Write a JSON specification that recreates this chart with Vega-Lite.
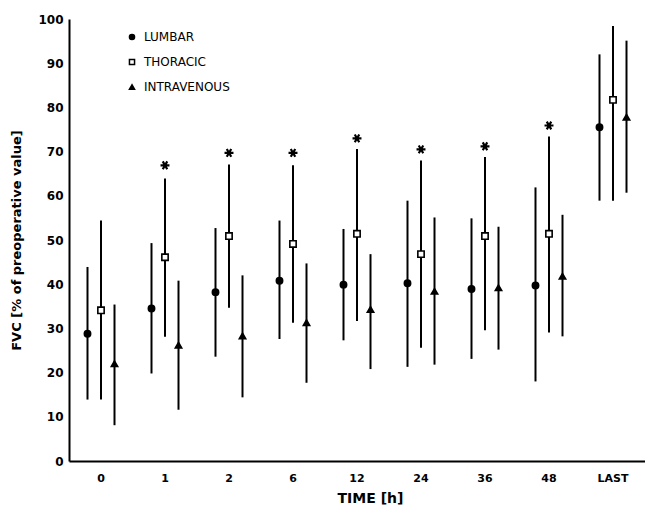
{
  "$schema": "https://vega.github.io/schema/vega-lite/v6.json",
  "width": 576,
  "height": 442,
  "autosize": "none",
  "padding": {"left": 69, "top": 19, "right": 0, "bottom": 47},
  "background": "white",
  "config": {"view": {"stroke": null}, "font": "Liberation Sans"},
  "datasets": {
    "pts": [
      {"t": "0", "g": "LUMBAR", "v": 28.8, "lo": 13.9, "hi": 43.9},
      {"t": "0", "g": "THORACIC", "v": 34.1, "lo": 13.9, "hi": 54.4},
      {"t": "0", "g": "INTRAVENOUS", "v": 22.0, "lo": 8.1, "hi": 35.4},
      {"t": "1", "g": "LUMBAR", "v": 34.5, "lo": 19.8, "hi": 49.3},
      {"t": "1", "g": "THORACIC", "v": 46.1, "lo": 28.1, "hi": 63.9},
      {"t": "1", "g": "INTRAVENOUS", "v": 26.2, "lo": 11.6, "hi": 40.8},
      {"t": "2", "g": "LUMBAR", "v": 38.2, "lo": 23.6, "hi": 52.7},
      {"t": "2", "g": "THORACIC", "v": 50.9, "lo": 34.7, "hi": 67.1},
      {"t": "2", "g": "INTRAVENOUS", "v": 28.3, "lo": 14.4, "hi": 42.0},
      {"t": "6", "g": "LUMBAR", "v": 40.8, "lo": 27.6, "hi": 54.4},
      {"t": "6", "g": "THORACIC", "v": 49.1, "lo": 31.3, "hi": 66.9},
      {"t": "6", "g": "INTRAVENOUS", "v": 31.3, "lo": 17.7, "hi": 44.7},
      {"t": "12", "g": "LUMBAR", "v": 39.9, "lo": 27.3, "hi": 52.5},
      {"t": "12", "g": "THORACIC", "v": 51.4, "lo": 31.7, "hi": 70.6},
      {"t": "12", "g": "INTRAVENOUS", "v": 34.3, "lo": 20.8, "hi": 46.8},
      {"t": "24", "g": "LUMBAR", "v": 40.2, "lo": 21.3, "hi": 58.9},
      {"t": "24", "g": "THORACIC", "v": 46.8, "lo": 25.6, "hi": 68.0},
      {"t": "24", "g": "INTRAVENOUS", "v": 38.4, "lo": 21.8, "hi": 55.1},
      {"t": "36", "g": "LUMBAR", "v": 38.9, "lo": 23.1, "hi": 54.9},
      {"t": "36", "g": "THORACIC", "v": 50.9, "lo": 29.6, "hi": 68.8},
      {"t": "36", "g": "INTRAVENOUS", "v": 39.2, "lo": 25.2, "hi": 53.0},
      {"t": "48", "g": "LUMBAR", "v": 39.7, "lo": 18.0, "hi": 61.9},
      {"t": "48", "g": "THORACIC", "v": 51.4, "lo": 29.1, "hi": 73.4},
      {"t": "48", "g": "INTRAVENOUS", "v": 41.8, "lo": 28.2, "hi": 55.7},
      {"t": "LAST", "g": "LUMBAR", "v": 75.5, "lo": 58.9, "hi": 92.0},
      {"t": "LAST", "g": "THORACIC", "v": 81.7, "lo": 58.9, "hi": 98.4},
      {"t": "LAST", "g": "INTRAVENOUS", "v": 77.8, "lo": 60.7, "hi": 95.1}
    ],
    "stars": [
      {"t": "1", "g": "THORACIC", "s": 66.9},
      {"t": "2", "g": "THORACIC", "s": 69.7},
      {"t": "6", "g": "THORACIC", "s": 69.7},
      {"t": "12", "g": "THORACIC", "s": 73.0},
      {"t": "24", "g": "THORACIC", "s": 70.5},
      {"t": "36", "g": "THORACIC", "s": 71.2},
      {"t": "48", "g": "THORACIC", "s": 75.9}
    ]
  },
  "encoding": {
    "x": {
      "field": "t", "type": "nominal", "sort": ["0","1","2","6","12","24","36","48","LAST"],
      "scale": {"paddingInner": 0, "paddingOuter": 0},
      "axis": {
        "title": "TIME  [h]", "titleFont": "DejaVu Sans", "titleFontSize": 14, "titleFontWeight": "bold",
        "titleColor": "black", "titlePadding": 8, "titleX": 301,
        "labelAngle": 0, "labelFont": "DejaVu Sans", "labelFontSize": 11, "labelFontWeight": "bold",
        "labelColor": "black", "labelPadding": 11, "ticks": false, "domainColor": "black", "domainWidth": 2
      }
    },
    "xOffset": {
      "field": "g", "type": "nominal", "sort": ["LUMBAR","THORACIC","INTRAVENOUS"],
      "scale": {"paddingInner": 0, "paddingOuter": 0.87}
    }
  },
  "layer": [
    {
      "data": {"name": "pts"},
      "mark": {"type": "rule", "color": "black", "strokeWidth": 2},
      "encoding": {
        "y": {
          "field": "lo", "type": "quantitative", "scale": {"domain": [0, 100], "nice": false},
          "axis": {
            "title": "FVC  [% of preoperative value]", "titleFont": "DejaVu Sans", "titleFontSize": 13,
            "titleFontWeight": "bold", "titleColor": "black", "titlePadding": 14,
            "values": [0,10,20,30,40,50,60,70,80,90,100], "grid": false, "ticks": false,
            "labelFont": "DejaVu Sans", "labelFontSize": 12, "labelFontWeight": "bold", "labelColor": "black",
            "labelPadding": 6, "domainColor": "black", "domainWidth": 2
          }
        },
        "y2": {"field": "hi"}
      }
    },
    {
      "data": {"name": "pts"},
      "mark": {"type": "point", "stroke": "black", "strokeWidth": 1.6, "opacity": 1, "filled": false},
      "encoding": {
        "y": {"field": "v", "type": "quantitative"},
        "shape": {
          "field": "g", "type": "nominal",
          "scale": {"domain": ["LUMBAR","THORACIC","INTRAVENOUS"], "range": ["circle","square","triangle-up"]},
          "legend": {
            "title": null, "orient": "none", "legendX": 57, "legendY": 12, "rowPadding": 13,
            "labelFont": "DejaVu Sans", "labelFontSize": 12, "labelColor": "black", "labelOffset": 6,
            "symbolSize": 26,
            "encode": {"symbols": {"update": {"stroke": {"value": "black"}, "strokeWidth": {"value": 1.5}}}}
          }
        },
        "fill": {
          "field": "g", "type": "nominal",
          "scale": {"domain": ["LUMBAR","THORACIC","INTRAVENOUS"], "range": ["black","white","black"]},
          "legend": {
            "title": null, "orient": "none", "legendX": 57, "legendY": 12, "rowPadding": 13,
            "labelFont": "DejaVu Sans", "labelFontSize": 12, "labelColor": "black", "labelOffset": 6,
            "symbolSize": 26,
            "encode": {"symbols": {"update": {"stroke": {"value": "black"}, "strokeWidth": {"value": 1.5}}}}
          }
        },
        "size": {"value": 40}
      }
    },
    {
      "data": {"name": "stars"},
      "mark": {"type": "point", "shape": "M-1,0L1,0M-0.5,-0.87L0.5,0.87M-0.5,0.87L0.5,-0.87", "stroke": "black", "strokeWidth": 2.2, "size": 80, "opacity": 1},
      "encoding": {
        "y": {"field": "s", "type": "quantitative"}
      }
    }
  ]
}
